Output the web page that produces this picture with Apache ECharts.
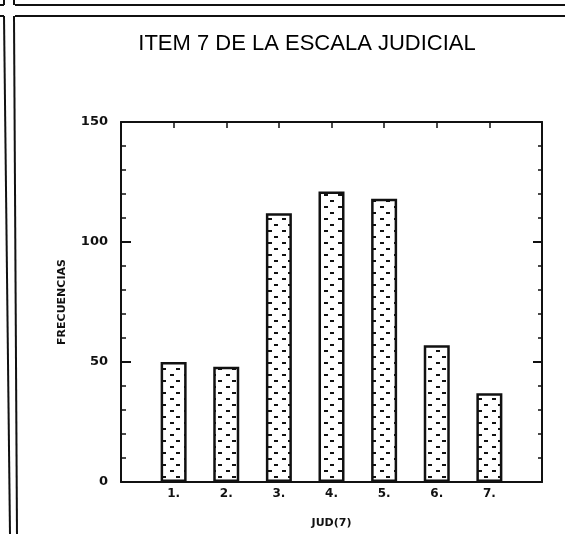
<!DOCTYPE html>
<html>
<head>
<meta charset="utf-8">
<script src="https://cdn.jsdelivr.net/npm/echarts@6/dist/echarts.min.js"></script>
<style>
  html, body { margin: 0; padding: 0; background: #fff; }
  #chart { width: 565px; height: 534px; }
</style>
</head>
<body>
<div id="chart"></div>
<script>
const categories = [1, 2, 3, 4, 5, 6, 7]
const frecuencias = [50, 48, 112, 121, 118, 57, 37]
const yTicks = [0, 50, 100, 150]

// dotted fill like the old print pattern
const tile = document.createElement('canvas')
tile.width = 14
tile.height = 12
const ctx = tile.getContext('2d')
ctx.fillStyle = '#fff'
ctx.fillRect(0, 0, 14, 12)
ctx.fillStyle = '#111'
ctx.fillRect(2, 2, 4, 2)
ctx.fillRect(8, 8, 4, 2)

const ink = '#111'
const labelFont = 'DejaVu Sans'

const chart = echarts.init(document.getElementById('chart'))
chart.setOption({
  animation: false,
  backgroundColor: '#fff',
  title: {
    text: 'ITEM 7 DE LA ESCALA JUDICIAL',
    left: 302,
    top: 28,
    textAlign: 'center',
    textStyle: {
      fontFamily: 'Liberation Sans',
      fontSize: 22,
      fontWeight: 'normal',
      color: '#000'
    }
  },
  grid: { left: 121, right: 23, top: 122, bottom: 51 },
  xAxis: [
    {
      type: 'value',
      min: 0,
      max: categories.length + 1,
      interval: 1,
      name: 'JUD(7)',
      nameLocation: 'middle',
      nameGap: 36,
      nameTextStyle: { fontFamily: labelFont, fontWeight: 'bold', fontSize: 11, color: ink },
      splitLine: { show: false },
      axisLine: { onZero: false, lineStyle: { color: ink, width: 2 } },
      axisTick: { inside: true, length: 5, lineStyle: { color: ink, width: 1.5 } },
      axisLabel: {
        margin: 6,
        fontFamily: labelFont,
        fontWeight: 'bold',
        fontSize: 12,
        color: ink,
        formatter: v => (categories.indexOf(v) >= 0 ? v + '.' : '')
      }
    },
    {
      type: 'value',
      position: 'top',
      min: 0,
      max: categories.length + 1,
      interval: 1,
      splitLine: { show: false },
      axisLine: { onZero: false, lineStyle: { color: ink, width: 2 } },
      axisTick: { inside: true, length: 6, lineStyle: { color: ink, width: 1.5 } },
      axisLabel: { show: false }
    }
  ],
  yAxis: [
    {
      type: 'value',
      min: yTicks[0],
      max: yTicks[yTicks.length - 1],
      interval: 50,
      name: 'FRECUENCIAS',
      nameLocation: 'middle',
      nameRotate: 90,
      nameGap: 53,
      nameTextStyle: { fontFamily: labelFont, fontWeight: 'bold', fontSize: 11, color: ink },
      splitLine: { show: false },
      axisLine: { show: true, onZero: false, lineStyle: { color: ink, width: 2 } },
      axisTick: { inside: true, length: 10, lineStyle: { color: ink, width: 2 } },
      minorTick: { show: true, splitNumber: 5, length: 5, lineStyle: { color: ink, width: 1.5 } },
      axisLabel: {
        margin: 13,
        fontFamily: labelFont,
        fontWeight: 'bold',
        fontSize: 13,
        color: ink
      }
    },
    {
      type: 'value',
      position: 'right',
      min: yTicks[0],
      max: yTicks[yTicks.length - 1],
      interval: 50,
      splitLine: { show: false },
      axisLine: { show: true, onZero: false, lineStyle: { color: ink, width: 2 } },
      axisTick: { inside: true, length: 9, lineStyle: { color: ink, width: 2 } },
      minorTick: { show: true, splitNumber: 5, length: 4, lineStyle: { color: ink, width: 1.5 } },
      axisLabel: { show: false }
    }
  ],
  series: [
    {
      type: 'bar',
      barWidth: 26,
      data: categories.map((c, i) => [c, frecuencias[i]]),
      itemStyle: {
        color: { image: tile, repeat: 'repeat' },
        borderColor: ink,
        borderWidth: 2.5
      }
    }
  ],
  // double rule lines of the page frame
  graphic: [
    { type: 'line', shape: { x1: 0, y1: 5, x2: 4, y2: 5 }, style: { stroke: ink, lineWidth: 2 } },
    { type: 'line', shape: { x1: 0, y1: 16, x2: 4, y2: 16 }, style: { stroke: ink, lineWidth: 2 } },
    { type: 'line', shape: { x1: 15, y1: 5, x2: 565, y2: 5 }, style: { stroke: ink, lineWidth: 2 } },
    { type: 'line', shape: { x1: 15, y1: 16, x2: 565, y2: 16 }, style: { stroke: ink, lineWidth: 2 } },
    { type: 'line', shape: { x1: 4, y1: 0, x2: 4, y2: 5 }, style: { stroke: ink, lineWidth: 2 } },
    { type: 'line', shape: { x1: 14, y1: 0, x2: 14, y2: 5 }, style: { stroke: ink, lineWidth: 2 } },
    { type: 'line', shape: { x1: 4, y1: 16, x2: 10, y2: 534 }, style: { stroke: ink, lineWidth: 2 } },
    { type: 'line', shape: { x1: 14, y1: 16, x2: 17, y2: 534 }, style: { stroke: ink, lineWidth: 2 } }
  ]
})
</script>
</body>
</html>
